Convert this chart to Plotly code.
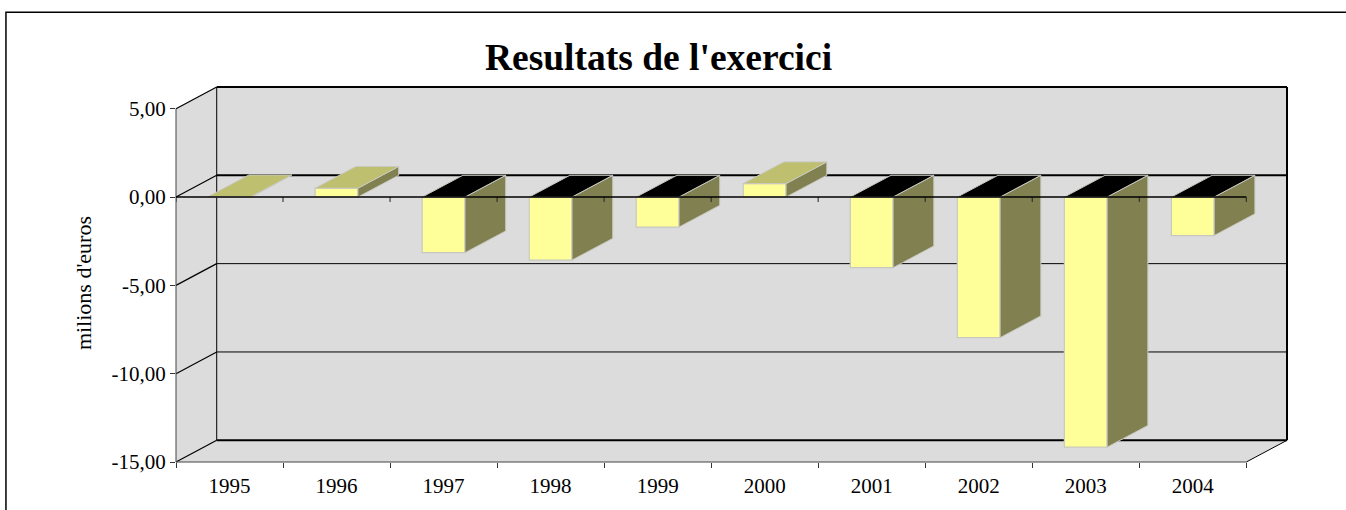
import plotly.graph_objects as go

# --- data ---
years = ["1995", "1996", "1997", "1998", "1999", "2000", "2001", "2002", "2003", "2004"]
results = [0.02, 0.5, -3.15, -3.57, -1.7, 0.76, -4.0, -7.96, -14.16, -2.18]
y_ticks = [-15, -10, -5, 0, 5]
y_labels = ["-15,00", "-10,00", "-5,00", "0,00", "5,00"]

# --- geometry (pixels of the page, and depth in axis units) ---
W, H = 1346, 510
L, R, T, B = 176.0, 1286.7, 86.7, 462.0
DX = 40.7 / 107.0     # depth in category units
DY = 21.7 / 17.65     # depth in value units
BAR = 0.4
n = len(years)
xs = list(range(n))
centers = [i + 0.5 for i in xs]

def px(x):
    return (x - L) / (R - L)

def py(y):
    return (B - y) / (B - T)

# axis units to paper fractions: paper shapes are not clipped at the plot edge
def ax(x):
    return x / (n + DX)

def ay(y):
    return (y + 15) / (20 + DY)

fig = go.Figure()

# front faces
fig.add_trace(go.Bar(
    x=centers, y=results, width=BAR, base=0,
    marker=dict(color="#FFFF99", line=dict(color="#C8C8C0", width=1.2)),
    hoverinfo="skip", showlegend=False))

# side and top faces computed from the values
def polys(build):
    xo, yo = [], []
    for c, v in zip(centers, results):
        p = build(c, v)
        if p:
            xo += [q[0] for q in p] + [p[0][0], None]
            yo += [q[1] for q in p] + [p[0][1], None]
    return xo, yo

def side(c, v):
    r = c + BAR / 2
    return [(r, 0), (r + DX, DY), (r + DX, v + DY), (r, v)]

def top_pos(c, v):
    if v < 0:
        return None
    a, b = c - BAR / 2, c + BAR / 2
    return [(a, v), (b, v), (b + DX, v + DY), (a + DX, v + DY)]

def top_neg(c, v):
    if v >= 0:
        return None
    a, b = c - BAR / 2, c + BAR / 2
    return [(a, 0), (b, 0), (b + DX, DY), (a + DX, DY)]

for build, col in ((side, "#808050"), (top_pos, "#BFBF70"), (top_neg, "#000000")):
    xo, yo = polys(build)
    fig.add_trace(go.Scatter(x=xo, y=yo, mode="lines", fill="toself", fillcolor=col,
                             line=dict(color="#C8C8C0", width=1),
                             hoverinfo="skip", showlegend=False))

# zero axis with its ticks, on top of the bars
tx, ty = [], []
for i in range(n + 1):
    tx += [i, i, None]
    ty += [0, -0.28, None]
fig.add_trace(go.Scatter(x=tx, y=ty, mode="lines", line=dict(color="#222", width=1),
                         hoverinfo="skip", showlegend=False))
fig.add_trace(go.Scatter(x=[0, n], y=[0, 0], mode="lines", line=dict(color="#000", width=1.5),
                         hoverinfo="skip", showlegend=False))

# walls and grid, below the traces
wall = [(0, -15), (0, 5), (DX, 5 + DY), (n + DX, 5 + DY), (n + DX, -15 + DY), (n, -15)]
shapes = [dict(
    type="path", layer="below", xref="paper", yref="paper", line=dict(width=0), fillcolor="#DCDCDC",
    path="M" + " L".join(f"{ax(a)},{ay(b)}" for a, b in wall) + " Z")]

def seg(x0, y0, x1, y1, w, c="#000"):
    return dict(type="line", layer="below", xref="paper", yref="paper",
                x0=ax(x0), y0=ay(y0), x1=ax(x1), y1=ay(y1), line=dict(color=c, width=w))

for t in y_ticks:
    w = 2 if t in (-15, 0, 5) else 1
    shapes.append(seg(DX, t + DY, n + DX, t + DY, w))
    shapes.append(seg(0, t, DX, t + DY, 1.2))
shapes += [
    seg(DX, -15 + DY, DX, 5 + DY, 1),
    seg(n + DX, -15 + DY, n + DX, 5 + DY, 2),
    seg(0, -15, 0, 5, 1, "#444"),
    seg(0, -15, n, -15, 1, "#444"),
    seg(n, -15, n + DX, -15 + DY, 1),
]
# outer frame of the chart
shapes.append(dict(type="path", xref="paper", yref="paper", line=dict(color="#000", width=1.5),
                   path=f"M{px(6)},{py(512)} L{px(6)},{py(12)} L{px(1348)},{py(12)}"))

FONT = "Liberation Serif"
fig.update_layout(
    width=W, height=H, autosize=False,
    margin=dict(l=L, r=W - R, t=T, b=H - B, pad=0),
    paper_bgcolor="#FFFFFF", plot_bgcolor="rgba(0,0,0,0)",
    font=dict(family=FONT, size=21, color="#000"),
    showlegend=False, barmode="overlay", shapes=shapes,
    title=dict(text="<b>Resultats de l'exercici</b>", font=dict(family=FONT, size=37.5, color="#000"),
               x=658.5 / W, xref="container", xanchor="center",
               y=1 - 57 / H, yref="container", yanchor="middle"),
    annotations=[dict(text="milions d'euros", textangle=-90, showarrow=False,
                      xref="paper", yref="paper", x=px(83), y=py(283),
                      xanchor="center", yanchor="middle",
                      font=dict(family=FONT, size=22, color="#000"))],
    xaxis=dict(range=[0, n + DX], showgrid=False, zeroline=False, showline=False,
               tickmode="array", tickvals=centers, ticktext=years, ticks="",
               ticklabelstandoff=9, tickfont=dict(size=21),
               minor=dict(tickmode="array", tickvals=list(range(n + 1)), ticks="outside",
                          ticklen=5, tickcolor="#333", tickwidth=1, showgrid=False)),
    yaxis=dict(range=[-15, 5 + DY], showgrid=False, zeroline=False, showline=False,
               tickmode="array", tickvals=y_ticks, ticktext=y_labels, ticks="outside",
               ticklen=5, tickcolor="#333", tickwidth=1, tickfont=dict(size=21)),
)

fig.write_html("out.html", config=dict(displayModeBar=False),
               post_script="document.body.style.margin='0';")
